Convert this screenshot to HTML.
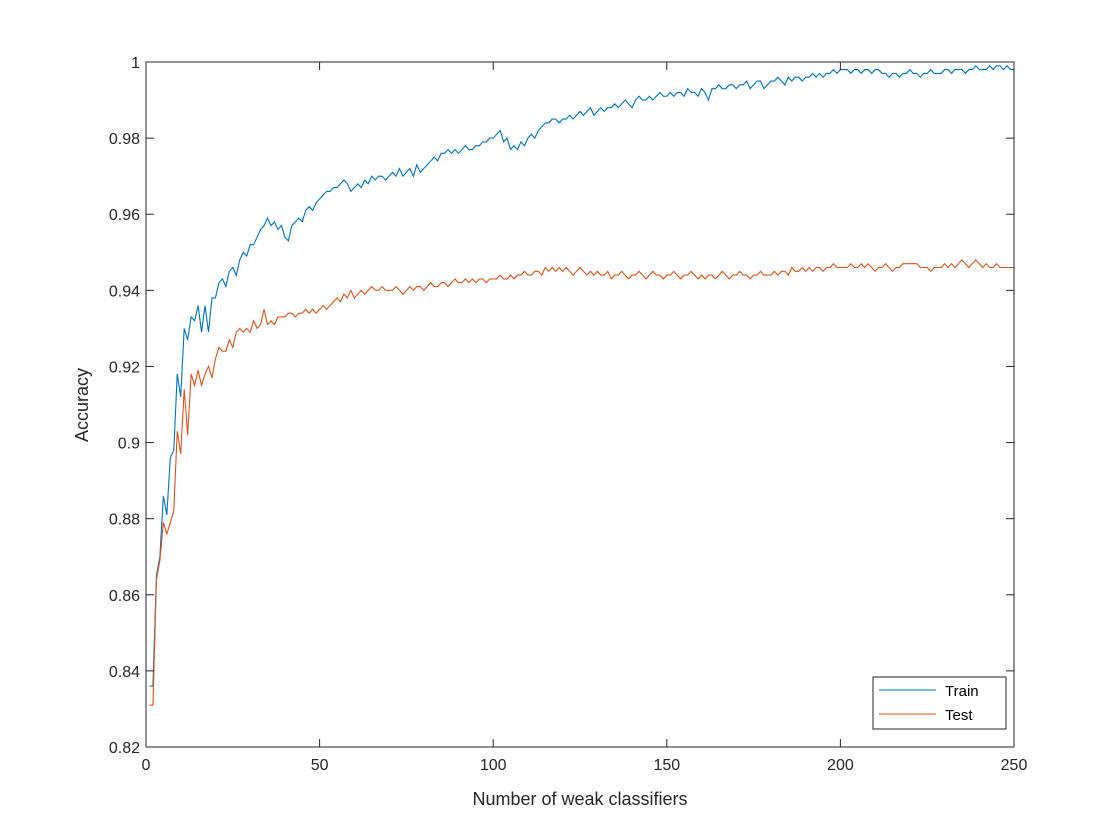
<!DOCTYPE html>
<html><head><meta charset="utf-8"><style>
body{margin:0;background:#fff;}
svg{display:block;font-family:"Liberation Sans",Arial,sans-serif;}
</style></head><body>
<svg id="chart" width="1120" height="840">
<rect x="0" y="0" width="1120" height="840" fill="#fff"/>
<g id="grid"></g>
<g id="series"></g>
<rect x="146" y="62" width="868" height="685" fill="none" stroke="#262626" stroke-width="1"/>
<g id="ticks"></g>
<text x="580" y="805" font-size="18" text-anchor="middle" fill="#262626">Number of weak classifiers</text>
<text transform="translate(88,405) rotate(-90)" font-size="18" text-anchor="middle" fill="#262626">Accuracy</text>
<g>
<rect x="873" y="677" width="133" height="52" fill="#fff" stroke="#262626" stroke-width="1"/>
<line x1="879" y1="690" x2="936" y2="690" stroke="#0072BD" stroke-width="1"/>
<text x="945" y="696" font-size="15" fill="#000">Train</text>
<line x1="879" y1="714" x2="936" y2="714" stroke="#D95319" stroke-width="1"/>
<text x="945" y="720" font-size="15" fill="#000">Test</text>
</g>
</svg>
<script>
const xTicks=[0,50,100,150,200,250];
const yTicks=[0.82,0.84,0.86,0.88,0.9,0.92,0.94,0.96,0.98,1];
const yTickLabels=["0.82","0.84","0.86","0.88","0.9","0.92","0.94","0.96","0.98","1"];
const trainAcc=[.836,.836,.865,.870,.886,.881,.896,.898,.918,.912,
.930,.927,.933,.932,.936,.929,.936,.929,.938,.938,
.942,.943,.941,.945,.946,.944,.948,.950,.949,.952,
.952,.954,.956,.957,.959,.957,.958,.956,.957,.954,
.953,.957,.958,.959,.958,.961,.962,.961,.963,.964,
.965,.966,.966,.967,.967,.968,.969,.968,.966,.967,
.968,.967,.969,.968,.970,.969,.970,.970,.969,.970,
.971,.970,.972,.970,.971,.972,.970,.973,.971,.972,
.973,.974,.975,.974,.976,.976,.977,.976,.977,.976,
.977,.978,.977,.977,.978,.978,.979,.979,.980,.980,
.981,.982,.979,.980,.977,.978,.977,.979,.978,.980,
.981,.980,.982,.983,.984,.984,.985,.985,.984,.985,
.985,.986,.985,.986,.987,.986,.987,.988,.986,.987,
.988,.987,.988,.988,.989,.988,.989,.990,.989,.988,
.990,.991,.990,.990,.991,.990,.991,.992,.991,.991,
.992,.991,.992,.992,.991,.993,.992,.992,.991,.993,
.992,.990,.993,.993,.994,.993,.993,.994,.994,.993,
.994,.994,.995,.993,.994,.995,.995,.993,.994,.995,
.995,.996,.995,.994,.996,.995,.996,.996,.995,.996,
.996,.997,.996,.997,.996,.997,.997,.998,.997,.998,
.998,.998,.997,.998,.998,.997,.998,.998,.997,.998,
.998,.997,.997,.996,.997,.997,.996,.997,.997,.998,
.997,.997,.996,.997,.997,.998,.997,.997,.997,.998,
.998,.997,.998,.998,.998,.997,.998,.998,.999,.998,
.998,.998,.999,.998,.999,.999,.998,.999,.998,.998];
const testAcc=[.831,.831,.864,.869,.879,.876,.879,.882,.903,.897,
.914,.902,.918,.915,.919,.915,.918,.920,.917,.922,
.925,.924,.924,.927,.925,.929,.930,.929,.930,.929,
.932,.930,.931,.935,.931,.932,.931,.933,.933,.933,
.934,.934,.933,.934,.934,.935,.934,.935,.934,.935,
.936,.935,.936,.937,.938,.937,.939,.938,.940,.938,
.939,.940,.939,.940,.941,.940,.940,.941,.940,.940,
.940,.941,.940,.939,.940,.941,.940,.941,.941,.940,
.941,.942,.941,.941,.942,.942,.941,.942,.943,.942,
.942,.943,.942,.943,.942,.943,.943,.942,.943,.943,
.943,.944,.943,.943,.944,.943,.944,.944,.945,.944,
.944,.945,.945,.944,.946,.945,.946,.945,.946,.945,
.946,.945,.944,.945,.946,.945,.944,.945,.944,.945,
.944,.944,.945,.943,.944,.944,.945,.944,.943,.944,
.944,.945,.944,.943,.944,.945,.944,.944,.943,.944,
.944,.945,.944,.943,.944,.944,.945,.944,.943,.944,
.943,.944,.944,.943,.944,.945,.944,.943,.944,.944,
.945,.944,.944,.943,.944,.944,.945,.944,.944,.944,
.945,.944,.945,.945,.944,.946,.945,.945,.946,.945,
.946,.945,.946,.946,.945,.946,.946,.947,.946,.946,
.946,.946,.947,.946,.946,.947,.946,.947,.946,.945,
.946,.946,.947,.946,.945,.946,.946,.947,.947,.947,
.947,.947,.946,.946,.946,.945,.946,.946,.946,.947,
.946,.947,.946,.947,.948,.947,.946,.947,.948,.947,
.946,.947,.946,.946,.947,.946,.946,.946,.946,.946];

const L=146,R=1014,T=62,B=747;
const xMin=0,xMax=250,yMin=0.82,yMax=1;
function xS(v){return L+(v-xMin)/(xMax-xMin)*(R-L);}
function yS(v){return B-(v-yMin)/(yMax-yMin)*(B-T);}
const NS="http://www.w3.org/2000/svg";
const ticks=document.getElementById('ticks');
xTicks.forEach(function(t){
  const x=xS(t);
  const l=document.createElementNS(NS,'line');
  l.setAttribute('x1',x);l.setAttribute('x2',x);l.setAttribute('y1',B);l.setAttribute('y2',B-8);
  l.setAttribute('stroke','#262626');
  
  
  ticks.appendChild(l);
  const l2=document.createElementNS(NS,'line');
  l2.setAttribute('x1',x);l2.setAttribute('x2',x);l2.setAttribute('y1',T);l2.setAttribute('y2',T+8);
  l2.setAttribute('stroke','#262626');
  
  
  ticks.appendChild(l2);
  const tx=document.createElementNS(NS,'text');
  tx.setAttribute('x',x);tx.setAttribute('y',B+23);tx.setAttribute('font-size','16');
  tx.setAttribute('text-anchor','middle');tx.setAttribute('fill','#262626');
  tx.textContent=String(t);
  
  
  ticks.appendChild(tx);
});
yTicks.forEach(function(t,i){
  const y=yS(t);
  const l=document.createElementNS(NS,'line');
  l.setAttribute('x1',L);l.setAttribute('x2',L+8);l.setAttribute('y1',y);l.setAttribute('y2',y);
  l.setAttribute('stroke','#262626');
  
  
  ticks.appendChild(l);
  const l2=document.createElementNS(NS,'line');
  l2.setAttribute('x1',R);l2.setAttribute('x2',R-8);l2.setAttribute('y1',y);l2.setAttribute('y2',y);
  l2.setAttribute('stroke','#262626');
  
  
  ticks.appendChild(l2);
  const tx=document.createElementNS(NS,'text');
  tx.setAttribute('x',L-6);tx.setAttribute('y',y+6);tx.setAttribute('font-size','16');
  tx.setAttribute('text-anchor','end');tx.setAttribute('fill','#262626');
  tx.textContent=yTickLabels[i];
  
  
  ticks.appendChild(tx);
});
const series=document.getElementById('series');
function drawLine(arr,color,name){
  const pts=arr.map(function(v,i){return xS(i+1).toFixed(2)+','+yS(v).toFixed(2);}).join(' ');
  const p=document.createElementNS(NS,'polyline');
  p.setAttribute('points',pts);p.setAttribute('fill','none');
  p.setAttribute('stroke',color);p.setAttribute('stroke-width','1.1');
  
  
  series.appendChild(p);
}
drawLine(trainAcc,'#0072BD','train-line');
drawLine(testAcc,'#D95319','test-line');
</script>
</body></html>
